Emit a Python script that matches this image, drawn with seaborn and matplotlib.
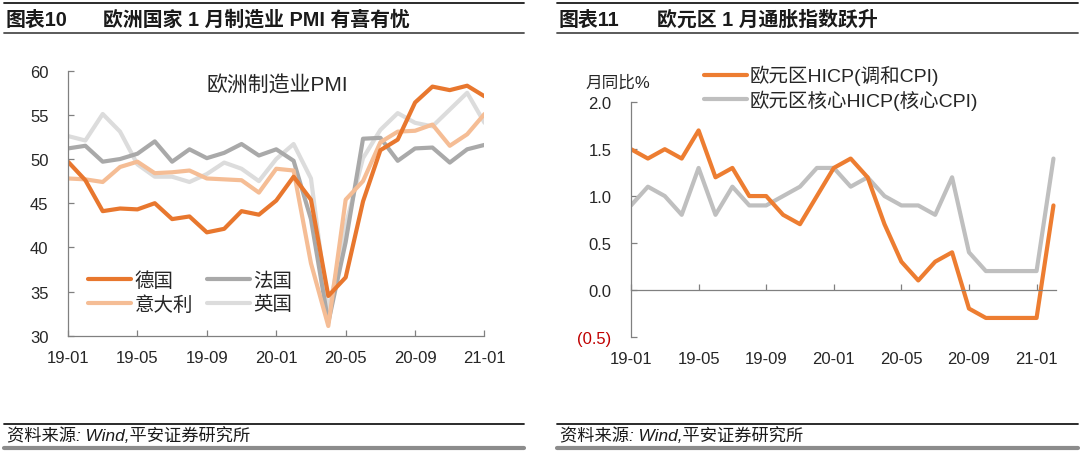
import matplotlib
matplotlib.use("Agg")
import matplotlib.pyplot as plt
from matplotlib.lines import Line2D
import seaborn as sns
import pandas as pd
import numpy as np

# ---------------- data ----------------
months_left = ["19-01", "19-02", "19-03", "19-04", "19-05", "19-06", "19-07", "19-08", "19-09",
               "19-10", "19-11", "19-12", "20-01", "20-02", "20-03", "20-04", "20-05", "20-06",
               "20-07", "20-08", "20-09", "20-10", "20-11", "20-12", "21-01"]
germany = [49.7, 47.6, 44.1, 44.4, 44.3, 45.0, 43.2, 43.5, 41.7, 42.1, 44.1, 43.7, 45.3,
           48.0, 45.4, 34.5, 36.6, 45.2, 51.0, 52.2, 56.4, 58.2, 57.8, 58.3, 57.1]
france = [51.2, 51.5, 49.7, 50.0, 50.6, 52.0, 49.7, 51.1, 50.1, 50.7, 51.7, 50.4, 51.1,
          49.8, 43.2, 31.5, 40.6, 52.3, 52.4, 49.8, 51.2, 51.3, 49.6, 51.1, 51.6]
italy = [47.8, 47.7, 47.4, 49.1, 49.7, 48.4, 48.5, 48.7, 47.8, 47.7, 47.6, 46.2, 48.9,
         48.7, 38.2, 31.1, 45.4, 47.5, 51.9, 53.1, 53.2, 53.9, 51.5, 52.8, 55.1]
uk = [52.6, 52.1, 55.1, 53.1, 49.4, 48.0, 48.0, 47.4, 48.3, 49.6, 48.9, 47.5, 50.0,
      51.7, 47.8, 32.6, 42.5, 50.1, 53.3, 55.2, 54.1, 53.7, 55.6, 57.5, 54.1]
left_series = ["德国", "意大利", "法国", "英国"]
left_ticks = [30, 35, 40, 45, 50, 55, 60]

months_right = months_left + ["21-02"]
hicp = [1.5, 1.4, 1.5, 1.4, 1.7, 1.2, 1.3, 1.0, 1.0, 0.8, 0.7, 1.0, 1.3, 1.4, 1.2, 0.7,
        0.3, 0.1, 0.3, 0.4, -0.2, -0.3, -0.3, -0.3, -0.3, 0.9]
core = [0.9, 1.1, 1.0, 0.8, 1.3, 0.8, 1.1, 0.9, 0.9, 1.0, 1.1, 1.3, 1.3, 1.1, 1.2, 1.0,
        0.9, 0.9, 0.8, 1.2, 0.4, 0.2, 0.2, 0.2, 0.2, 1.4]
right_series = ["欧元区HICP(调和CPI)", "欧元区核心HICP(核心CPI)"]
right_ticks = [-0.5, 0.0, 0.5, 1.0, 1.5, 2.0]
right_ticklabels = ["(0.5)", "0.0", "0.5", "1.0", "1.5", "2.0"]

xtick_step = 4

# ---------------- style ----------------
sns.set_theme(style="white")
plt.rcParams["font.family"] = ["Liberation Sans", "Noto Sans CJK SC", "DejaVu Sans"]
plt.rcParams["axes.unicode_minus"] = False

C_DE = "#E8772E"
C_FR = "#A9A9A9"
C_IT = "#F5BD95"
C_UK = "#DCDCDC"
C_HICP = "#ED7D31"
C_CORE = "#BFBFBF"
SPINE = "#808080"
LW = 3.0
TICK_FS = 12

fig = plt.figure(figsize=(10.8, 4.52), dpi=100)
W, H = 1080.0, 452.0


def fx(px):
    return px / W


def fy(py):
    return 1 - py / H


# ---------------- left chart ----------------
axL = fig.add_axes([fx(68), fy(336.7), fx(484.5 - 68), (336.7 - 71.7) / H])
dfL = pd.DataFrame({
    "idx": list(range(len(months_left))) * 4,
    "val": uk + france + italy + germany,
    "country": ["英国"] * 25 + ["法国"] * 25 + ["意大利"] * 25 + ["德国"] * 25,
})
pal_L = {"德国": C_DE, "法国": C_FR, "意大利": C_IT, "英国": C_UK}
sns.lineplot(data=dfL, x="idx", y="val", hue="country", palette=pal_L,
             hue_order=["英国", "法国", "意大利", "德国"], estimator=None,
             linewidth=LW, legend=False, ax=axL)
axL.set_xlim(0, len(months_left) - 1)
axL.set_ylim(30, 60)
axL.set_yticks(left_ticks)
axL.set_xticks(range(0, len(months_left), xtick_step))
axL.set_xticklabels(months_left[::xtick_step])
axL.set_xlabel("")
axL.set_ylabel("")
for s in ["top", "right"]:
    axL.spines[s].set_visible(False)
for s in ["left", "bottom"]:
    axL.spines[s].set_color(SPINE)
    axL.spines[s].set_linewidth(0.9)
axL.tick_params(axis="y", direction="in", length=4, width=0.9, color=SPINE,
                pad=14, labelsize=TICK_FS, labelcolor="#262626", left=True)
axL.tick_params(axis="x", direction="in", length=4, width=0.9, color=SPINE,
                pad=10, labelsize=TICK_FS, labelcolor="#262626", bottom=True)

handles_L = [Line2D([], [], color=pal_L[k], lw=LW, solid_capstyle="round") for k in left_series]
legL = axL.legend(handles_L, left_series, ncol=2, loc="upper left",
                  bbox_to_anchor=(fx(88), fy(272)), bbox_transform=fig.transFigure,
                  frameon=False, fontsize=14, handlelength=2.2, handletextpad=0.2,
                  columnspacing=0.7, labelspacing=0.3, borderpad=0, borderaxespad=0)
for t in legL.get_texts():
    t.set_color("#262626")

fig.text(fx(277), fy(86), "欧洲制造业PMI", ha="center", va="center",
         fontsize=15, color="#262626")

# ---------------- right chart ----------------
axR = fig.add_axes([fx(631), fy(337.7), fx(1056 - 631), (337.7 - 103.3) / H])
dfR = pd.DataFrame({
    "idx": list(range(len(months_right))) * 2,
    "val": core + hicp,
    "series": [right_series[1]] * 26 + [right_series[0]] * 26,
})
pal_R = {right_series[0]: C_HICP, right_series[1]: C_CORE}
sns.lineplot(data=dfR, x="idx", y="val", hue="series", palette=pal_R,
             hue_order=[right_series[1], right_series[0]], estimator=None,
             linewidth=LW, legend=False, ax=axR)
axR.set_xlim(0, 25.15)
axR.set_ylim(-0.5, 2.0)
axR.set_yticks(right_ticks)
axR.set_yticklabels(right_ticklabels)
axR.set_xticks(range(0, len(months_left), xtick_step))
axR.set_xticklabels(months_right[:len(months_left)][::xtick_step])
axR.set_xlabel("")
axR.set_ylabel("")
for s in ["top", "right"]:
    axR.spines[s].set_visible(False)
axR.spines["bottom"].set_position(("data", 0))
for s in ["left", "bottom"]:
    axR.spines[s].set_color(SPINE)
    axR.spines[s].set_linewidth(0.9)
axR.tick_params(axis="y", direction="in", length=4, width=0.9, color=SPINE,
                pad=14, labelsize=TICK_FS, left=True)
for i, t in enumerate(axR.get_yticklabels()):
    t.set_color("#C00000" if i == 0 else "#262626")
axR.tick_params(axis="x", direction="in", length=4, width=0.9, color=SPINE,
                pad=44, labelsize=TICK_FS, labelcolor="#262626", bottom=True)

handles_R = [Line2D([], [], color=pal_R[k], lw=LW, solid_capstyle="round") for k in right_series]
legR = axR.legend(handles_R, right_series, loc="upper left",
                  bbox_to_anchor=(fx(704), fy(66)), bbox_transform=fig.transFigure,
                  frameon=False, fontsize=14, handlelength=2.2, handletextpad=0.12,
                  labelspacing=0.22, borderpad=0, borderaxespad=0)
for t in legR.get_texts():
    t.set_color("#262626")

fig.text(fx(585), fy(83), "月同比%", ha="left", va="center", fontsize=12, color="#262626")

# ---------------- headers / footers ----------------
def hline(x0, x1, y, color, lw):
    fig.add_artist(Line2D([fx(x0), fx(x1)], [fy(y), fy(y)], color=color, lw=lw,
                          transform=fig.transFigure))


for (x0, x1) in [(4, 524), (557, 1078)]:
    hline(x0, x1, 3.5, "#1a1a1a", 1.3)
    hline(x0, x1, 33.5, "#4d4d4d", 1.3)
    hline(x0, x1, 424.5, "#1a1a1a", 1.3)
    hline(x0, x1, 449, "#8c8c8c", 3.0)

title_kw = dict(fontsize=14.3, fontweight="bold", color="#1a1a1a", va="center", ha="left",
                family=["Liberation Sans", "Noto Sans CJK SC"])
fig.text(fx(6), fy(20), "图表10", **title_kw)
fig.text(fx(103), fy(20), "欧洲国家 1 月制造业 PMI 有喜有忧", **title_kw)
fig.text(fx(559), fy(20), "图表11", **title_kw)
fig.text(fx(657), fy(20), "欧元区 1 月通胀指数跃升", **title_kw)

foot_kw = dict(fontsize=12.4, style="italic", color="#1a1a1a", va="center", ha="left",
               family=["Liberation Sans", "Noto Sans CJK SC"])
fig.text(fx(7), fy(436), "资料来源: Wind,平安证券研究所", **foot_kw)
fig.text(fx(560), fy(436), "资料来源: Wind,平安证券研究所", **foot_kw)

fig.savefig("out.png", dpi=100)
